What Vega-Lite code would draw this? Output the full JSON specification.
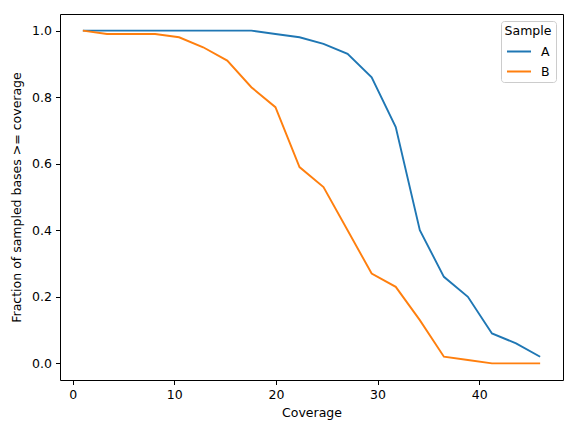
{
  "$schema": "https://vega.github.io/schema/vega-lite/v6.json",
  "width": 503,
  "height": 366,
  "autosize": {"type": "none"},
  "padding": {"left": 60, "top": 14, "right": 13, "bottom": 52},
  "background": "white",
  "config": {
    "view": {"stroke": "black", "strokeWidth": 1},
    "font": "DejaVu Sans",
    "axis": {
      "grid": false,
      "domain": false,
      "tickColor": "black",
      "tickSize": 4.5,
      "tickWidth": 1,
      "labelColor": "black",
      "labelFont": "DejaVu Sans",
      "labelFontSize": 12.5,
      "labelPadding": 4,
      "titleColor": "black",
      "titleFont": "DejaVu Sans",
      "titleFontSize": 12.5,
      "titleFontWeight": "normal"
    }
  },
  "data": {
    "values": [
      {"coverage": 1.0, "fraction": 1.0, "sample": "A"},
      {"coverage": 3.37, "fraction": 1.0, "sample": "A"},
      {"coverage": 5.74, "fraction": 1.0, "sample": "A"},
      {"coverage": 8.11, "fraction": 1.0, "sample": "A"},
      {"coverage": 10.47, "fraction": 1.0, "sample": "A"},
      {"coverage": 12.84, "fraction": 1.0, "sample": "A"},
      {"coverage": 15.21, "fraction": 1.0, "sample": "A"},
      {"coverage": 17.58, "fraction": 1.0, "sample": "A"},
      {"coverage": 19.95, "fraction": 0.99, "sample": "A"},
      {"coverage": 22.32, "fraction": 0.98, "sample": "A"},
      {"coverage": 24.68, "fraction": 0.96, "sample": "A"},
      {"coverage": 27.05, "fraction": 0.93, "sample": "A"},
      {"coverage": 29.42, "fraction": 0.86, "sample": "A"},
      {"coverage": 31.79, "fraction": 0.71, "sample": "A"},
      {"coverage": 34.16, "fraction": 0.40, "sample": "A"},
      {"coverage": 36.53, "fraction": 0.26, "sample": "A"},
      {"coverage": 38.89, "fraction": 0.20, "sample": "A"},
      {"coverage": 41.26, "fraction": 0.09, "sample": "A"},
      {"coverage": 43.63, "fraction": 0.06, "sample": "A"},
      {"coverage": 46.0, "fraction": 0.02, "sample": "A"},
      {"coverage": 1.0, "fraction": 1.0, "sample": "B"},
      {"coverage": 3.37, "fraction": 0.99, "sample": "B"},
      {"coverage": 5.74, "fraction": 0.99, "sample": "B"},
      {"coverage": 8.11, "fraction": 0.99, "sample": "B"},
      {"coverage": 10.47, "fraction": 0.98, "sample": "B"},
      {"coverage": 12.84, "fraction": 0.95, "sample": "B"},
      {"coverage": 15.21, "fraction": 0.91, "sample": "B"},
      {"coverage": 17.58, "fraction": 0.83, "sample": "B"},
      {"coverage": 19.95, "fraction": 0.77, "sample": "B"},
      {"coverage": 22.32, "fraction": 0.59, "sample": "B"},
      {"coverage": 24.68, "fraction": 0.53, "sample": "B"},
      {"coverage": 27.05, "fraction": 0.40, "sample": "B"},
      {"coverage": 29.42, "fraction": 0.27, "sample": "B"},
      {"coverage": 31.79, "fraction": 0.23, "sample": "B"},
      {"coverage": 34.16, "fraction": 0.13, "sample": "B"},
      {"coverage": 36.53, "fraction": 0.02, "sample": "B"},
      {"coverage": 38.89, "fraction": 0.01, "sample": "B"},
      {"coverage": 41.26, "fraction": 0.0, "sample": "B"},
      {"coverage": 43.63, "fraction": 0.0, "sample": "B"},
      {"coverage": 46.0, "fraction": 0.0, "sample": "B"}
    ]
  },
  "mark": {"type": "line", "strokeWidth": 1.9, "clip": true},
  "encoding": {
    "x": {
      "field": "coverage",
      "type": "quantitative",
      "scale": {"domain": [-1.25, 48.25], "nice": false, "zero": false},
      "axis": {"values": [0, 10, 20, 30, 40], "format": "d", "title": "Coverage", "titlePadding": 5}
    },
    "y": {
      "field": "fraction",
      "type": "quantitative",
      "scale": {"domain": [-0.05, 1.05], "nice": false, "zero": false},
      "axis": {"values": [0, 0.2, 0.4, 0.6, 0.8, 1.0], "format": ".1f", "title": "Fraction of sampled bases >= coverage", "titlePadding": 8}
    },
    "color": {
      "field": "sample",
      "type": "nominal",
      "scale": {"domain": ["A", "B"], "range": ["#1f77b4", "#ff7f0e"]},
      "legend": {
        "title": "Sample",
        "orient": "top-right",
        "offset": 7,
        "padding": 4,
        "fillColor": "white",
        "strokeColor": "#cccccc",
        "cornerRadius": 3,
        "symbolType": "stroke",
        "symbolSize": 576,
        "symbolStrokeWidth": 2,
        "labelFontSize": 12.5,
        "labelFont": "DejaVu Sans",
        "labelColor": "black",
        "labelOffset": 9,
        "titleFontSize": 12.5,
        "titleFont": "DejaVu Sans",
        "titleFontWeight": "normal",
        "titleColor": "black",
        "titleAnchor": "middle",
        "titlePadding": 1,
        "rowPadding": -5
      }
    }
  }
}
